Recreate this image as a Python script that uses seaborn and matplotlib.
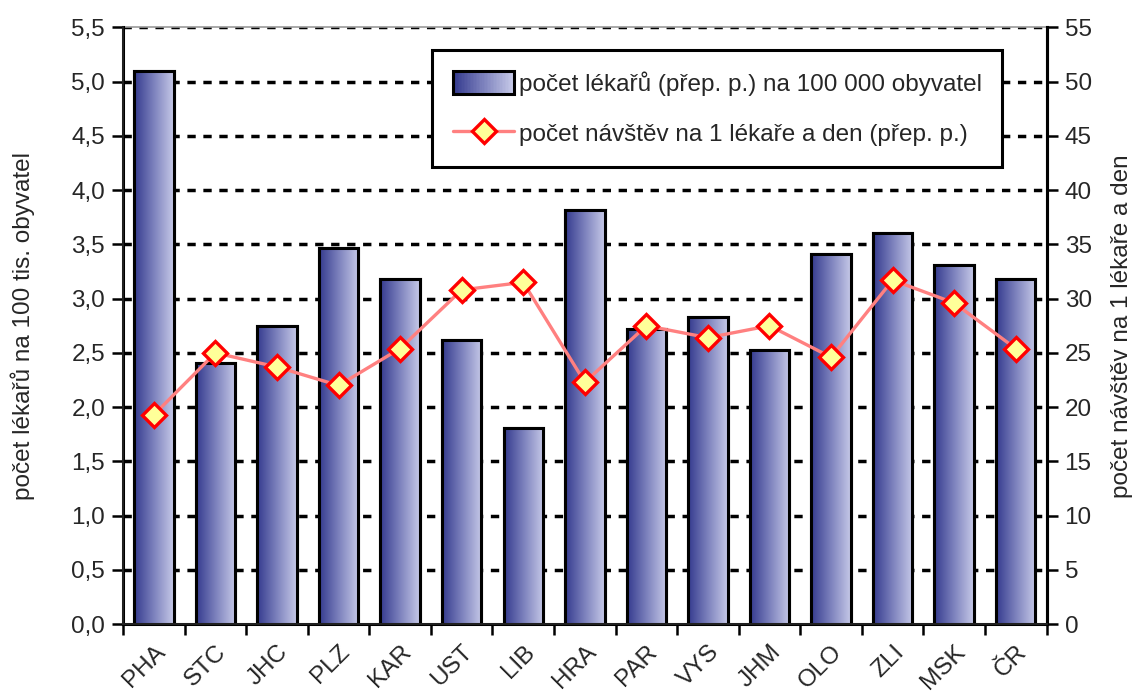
import numpy as np
import pandas as pd
import matplotlib
matplotlib.use("Agg")
import matplotlib.pyplot as plt
import seaborn as sns
from matplotlib.colors import LinearSegmentedColormap
from matplotlib.patches import Rectangle
from matplotlib.lines import Line2D
from matplotlib.legend_handler import HandlerBase

regions = ["PHA", "STC", "JHC", "PLZ", "KAR", "UST", "LIB", "HRA", "PAR", "VYS",
           "JHM", "OLO", "ZLI", "MSK", "ČR"]
doctors = [5.10, 2.41, 2.75, 3.47, 3.18, 2.62, 1.81, 3.82, 2.72, 2.83,
           2.53, 3.41, 3.60, 3.31, 3.18]
visits = [19.3, 25.0, 23.7, 22.0, 25.4, 30.8, 31.5, 22.3, 27.5, 26.4,
          27.5, 24.6, 31.7, 29.6, 25.4]
left_ticks = [0.0, 0.5, 1.0, 1.5, 2.0, 2.5, 3.0, 3.5, 4.0, 4.5, 5.0, 5.5]
left_ticklabels = ["0,0", "0,5", "1,0", "1,5", "2,0", "2,5", "3,0", "3,5",
                   "4,0", "4,5", "5,0", "5,5"]
right_ticks = [0, 5, 10, 15, 20, 25, 30, 35, 40, 45, 50, 55]
label_bars = "počet lékařů (přep. p.) na 100 000 obyvatel"
label_line = "počet návštěv na 1 lékaře a den (přep. p.)"
ylabel_left = "počet lékařů na 100 tis. obyvatel"
ylabel_right = "počet návštěv na 1 lékaře a den"

sns.set_theme(style="white")
plt.rcParams["font.family"] = ["Liberation Sans", "DejaVu Sans"]
FS = 17.5

grad = LinearSegmentedColormap.from_list("g", ["#343a8e", "#7d82bd", "#c6c9e8"])

fig = plt.figure(figsize=(11.4, 6.99), dpi=100)
ax = fig.add_axes([0.108, 0.107, 0.81, 0.854])

df = pd.DataFrame({"region": regions, "doctors": doctors, "visits": visits})
sns.barplot(data=df, x="region", y="doctors", ax=ax, width=0.64,
            color="#8a8ec6", edgecolor="black", linewidth=2.2, zorder=3)

# gradient fill on bars
gimg = np.linspace(0, 1, 256).reshape(1, -1)
for p in ax.patches:
    x0, y0 = p.get_x(), p.get_y()
    w, h = p.get_width(), p.get_height()
    im = ax.imshow(gimg, cmap=grad, aspect="auto",
                   extent=(x0, x0 + w, y0, y0 + h), zorder=3.5,
                   interpolation="bicubic")
    im.set_clip_path(p)
    edge = Rectangle((x0, y0), w, h, fill=False, edgecolor="black",
                     linewidth=2.2, zorder=4)
    ax.add_patch(edge)

ax.set_xlim(-0.5, len(regions) - 0.5)
ax.set_ylim(0, 5.5)
ax.set_yticks(left_ticks)
ax.set_yticklabels(left_ticklabels, fontsize=FS)
for yv in left_ticks[1:]:
    ax.axhline(yv, color="black", linestyle=(0, (2.4, 2.2)), linewidth=2.5, zorder=1)
ax.axhline(5.5, color="#999999", linewidth=1.2, zorder=1, clip_on=False)

# x ticks between categories, labels at centers
ax.set_xticks(np.arange(-0.5, len(regions), 1.0))
ax.set_xticklabels([])
ax.set_xticks(np.arange(len(regions)), minor=True)
ax.set_xticklabels(regions, minor=True, rotation=45, ha="right",
                   rotation_mode="anchor", fontsize=FS)
ax.tick_params(axis="x", which="major", direction="out", length=8, width=1.8,
               color="black", bottom=True)
ax.tick_params(axis="x", which="minor", length=0, pad=12)
ax.tick_params(axis="y", direction="out", length=8, width=1.8, color="black",
               left=True, pad=5)
ax.set_xlabel("")
ax.set_ylabel(ylabel_left, fontsize=FS, labelpad=26)

for s in ["top"]:
    ax.spines[s].set_visible(False)
for s in ["left", "bottom", "right"]:
    ax.spines[s].set_color("black")
    ax.spines[s].set_linewidth(2.2)

ax2 = ax.twinx()
sns.lineplot(x=np.arange(len(regions)), y=visits, ax=ax2, sort=False,
             color="#ff8080", linewidth=2.4, marker="D", markersize=12,
             markerfacecolor="#ffff99", markeredgecolor="#ff0000",
             markeredgewidth=2.4, zorder=5)
ax2.set_ylim(0, 55)
ax2.set_yticks(right_ticks)
ax2.set_yticklabels([str(t) for t in right_ticks], fontsize=FS)
ax2.tick_params(axis="y", direction="out", length=8, width=1.8, color="black",
                right=True, pad=5)
ax2.set_ylabel(ylabel_right, fontsize=FS, labelpad=14, rotation=90)
ax2.yaxis.set_label_position("right")
ax2.spines["top"].set_visible(False)
ax2.spines["right"].set_color("black")
ax2.spines["right"].set_linewidth(2.2)
ax2.set_xlim(-0.5, len(regions) - 0.5)
ax2.grid(False)


class GradientHandler(HandlerBase):
    def create_artists(self, legend, orig_handle, xdescent, ydescent,
                       width, height, fontsize, trans):
        arts = []
        n = 40
        x0, y0 = -xdescent, -ydescent
        for i in range(n):
            c = grad(i / (n - 1))
            r = Rectangle((x0 + width * i / n, y0), width / n + 0.3, height,
                          facecolor=c, edgecolor="none", transform=trans)
            arts.append(r)
        arts.append(Rectangle((x0, y0), width, height, fill=False,
                              edgecolor="black", linewidth=2.2, transform=trans))
        return arts


bar_handle = Rectangle((0, 0), 1, 1)
line_handle = Line2D([], [], color="#ff8080", linewidth=2.4, marker="D",
                     markersize=12, markerfacecolor="#ffff99",
                     markeredgecolor="#ff0000", markeredgewidth=2.4)
leg = ax2.legend([bar_handle, line_handle], [label_bars, label_line],
                 handler_map={Rectangle: GradientHandler()},
                 loc="upper left", bbox_to_anchor=(0.335, 0.962),
                 fontsize=FS, frameon=True, fancybox=False, framealpha=1,
                 edgecolor="black", handlelength=2.5, handleheight=1.1,
                 handletextpad=0.2, labelspacing=1.05, borderpad=0.85,
                 borderaxespad=0)
leg.get_frame().set_linewidth(2.2)
leg.set_zorder(10)

fig.savefig("out.png", dpi=100)
